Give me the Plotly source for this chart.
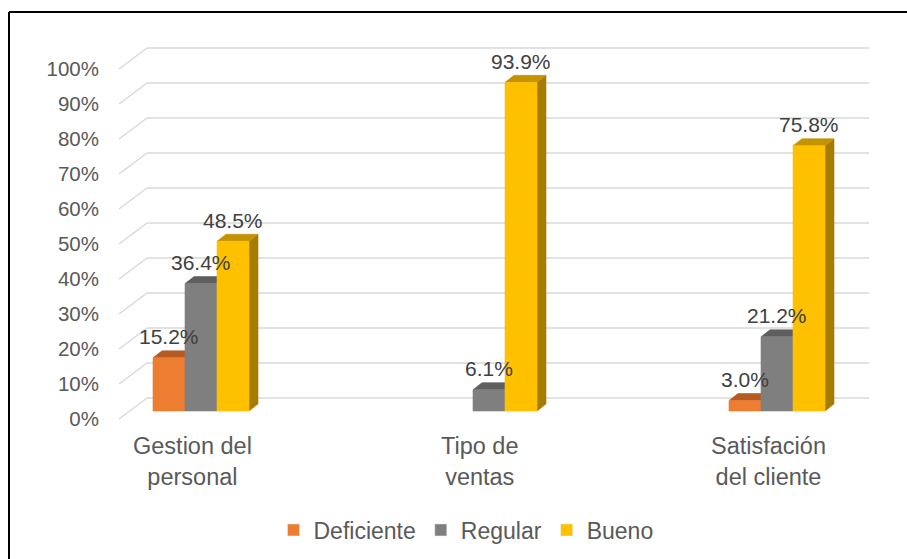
import plotly.graph_objects as go

# ---------------- data ----------------
categories = ["Gestion del<br>personal", "Tipo de<br>ventas", "Satisfación<br>del cliente"]
series_names = ["Deficiente", "Regular", "Bueno"]
deficiente = [15.2, None, 3.0]
regular = [36.4, 6.1, 21.2]
bueno = [48.5, 93.9, 75.8]
y_tick_values = [0, 10, 20, 30, 40, 50, 60, 70, 80, 90, 100]
y_tick_labels = ["0%", "10%", "20%", "30%", "40%", "50%", "60%", "70%", "80%", "90%", "100%"]

series_values = [deficiente, regular, bueno]
front_colors = ["#ED7D31", "#7F7F7F", "#FFC000"]
top_colors = ["#B55A22", "#5E5E5E", "#C49300"]
side_colors = ["#9C4D1C", "#4C4C4C", "#A67C00"]

# ---------------- geometry (layout styling) ----------------
W, H = 907, 559
ML, MR, MT, MB = 100, 20, 20, 120
X0_PX, X_UNIT_PX = 201.0, 288.0     # pixel of first category, pixels per category
Y0_PX, Y_UNIT_PX = 411.0, 3.5       # pixel of 0 %, pixels per percent
PLOT_BOTTOM = H - MB
x_range = [(ML - X0_PX) / X_UNIT_PX, (W - MR - X0_PX) / X_UNIT_PX]
y_range = [-(PLOT_BOTTOM - Y0_PX) / Y_UNIT_PX, (Y0_PX - MT) / Y_UNIT_PX]

def to_x(px):
    return (px - X0_PX) / X_UNIT_PX

bw = 32 / X_UNIT_PX          # bar width
ddx = 9 / X_UNIT_PX          # 3-D depth offset in x
ddy = 7 / Y_UNIT_PX          # 3-D depth offset in y
wall_front_x = to_x(119)
wall_back_x = to_x(147)
wall_right = to_x(869)
back_dy = 13 / Y_UNIT_PX
front_dy = -8 / Y_UNIT_PX
label_shift = -9 / X_UNIT_PX

fig = go.Figure()

def poly(xs, ys, color):
    fig.add_trace(go.Scatter(
        x=xs, y=ys, fill="toself", fillcolor=color, mode="lines",
        line=dict(width=0.6, color=color), hoverinfo="skip", showlegend=False))

annotations = []
for i in range(len(categories)):
    for k, vals in enumerate(series_values):
        v = vals[i]
        if v is None:
            continue
        x0 = i + (k - 1.5) * bw
        x1 = x0 + bw
        poly([x1, x1 + ddx, x1 + ddx, x1, x1], [0, ddy, v + ddy, v, 0], side_colors[k])
        poly([x0, x1, x1 + ddx, x0 + ddx, x0], [v, v, v + ddy, v + ddy, v], top_colors[k])
        poly([x0, x1, x1, x0, x0], [0, 0, v, v, 0], front_colors[k])
        annotations.append(dict(
            x=(x0 + x1) / 2, y=v, xref="x", yref="y", text=f"{v:.1f}%",
            showarrow=False, yshift=21, yanchor="middle",
            font=dict(size=21, color="#404040")))

# legend entries
for k, name in enumerate(series_names):
    fig.add_trace(go.Bar(x=[None], y=[None], name=name, marker_color=front_colors[k]))

# category labels
for i, cat in enumerate(categories):
    annotations.append(dict(
        x=i + label_shift, y=0, xref="x", yref="y", text=cat, showarrow=False,
        yanchor="top", yshift=-20, font=dict(size=23.5, color="#595959")))

# gridlines (back wall + slanted side)
shapes = []
for v in y_tick_values:
    shapes.append(dict(type="line", xref="x", yref="y", layer="below",
                       x0=wall_front_x, y0=v + front_dy, x1=wall_back_x, y1=v + back_dy,
                       line=dict(color="#D9D9D9", width=1.5)))
    shapes.append(dict(type="line", xref="x", yref="y", layer="below",
                       x0=wall_back_x, y0=v + back_dy, x1=wall_right, y1=v + back_dy,
                       line=dict(color="#D9D9D9", width=1.5)))

# outer frame (top and left edges visible)
PW = W - ML - MR
PH = H - MT - MB
def px_x(px):
    return (px - ML) / PW
def px_y(py):
    return (PLOT_BOTTOM - py) / PH
shapes.append(dict(type="line", xref="paper", yref="paper", layer="above",
                   x0=px_x(9), y0=px_y(12), x1=px_x(915), y1=px_y(12),
                   line=dict(color="black", width=2)))
shapes.append(dict(type="line", xref="paper", yref="paper", layer="above",
                   x0=px_x(9), y0=px_y(12), x1=px_x(9), y1=px_y(570),
                   line=dict(color="black", width=2)))

fig.update_layout(
    width=W, height=H,
    margin=dict(l=ML, r=MR, t=MT, b=MB, autoexpand=False),
    paper_bgcolor="white", plot_bgcolor="white",
    font=dict(family="Liberation Sans, Arial, sans-serif", color="#595959"),
    xaxis=dict(range=x_range, visible=False, fixedrange=True, automargin=False),
    yaxis=dict(range=y_range, tickvals=[v + front_dy for v in y_tick_values],
               ticktext=y_tick_labels, showgrid=False, zeroline=False, automargin=False,
               showline=False, ticks="", tickfont=dict(size=20.5, color="#595959")),
    showlegend=True,
    legend=dict(orientation="h", x=px_x(466), xanchor="center",
                y=px_y(530), yanchor="middle", font=dict(size=23, color="#595959"),
                itemwidth=30, traceorder="normal"),
    annotations=annotations, shapes=shapes,
)

fig.write_html("out.html")
